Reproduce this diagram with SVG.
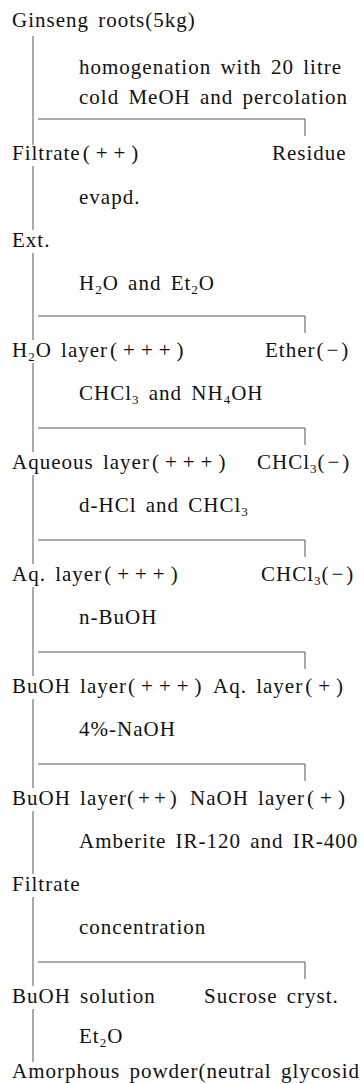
<svg xmlns="http://www.w3.org/2000/svg" width="364" height="1084" viewBox="0 0 364 1084">
<style>
  text { font-family: "Liberation Serif", "Times New Roman", serif; font-size: 21px; fill: #111; letter-spacing: 1px; word-spacing: 3px; }
  .sub { font-size: 13px; }
  .par { letter-spacing: 6px; }
  .par2 { letter-spacing: 4px; }
  .neg { letter-spacing: 3px; }
  .ln { stroke: #555; stroke-width: 1; fill: none; }
</style>
<rect width="364" height="1084" fill="#fff"/>

<!-- connectors: main trunk, branch bars and side ticks -->
<g id="connectors">
  <path class="ln" d="M33 36V145 M33 166V230 M33 253V340 M33 363V452 M33 475V564 M33 587V676 M33 699V788 M33 811V874 M33 897V986 M33 1009V1062"/>
  <path class="ln" d="M38 119H305V136 M38 316H305V333 M38 428H305V445 M38 540H305V557 M38 652H305V669 M38 764H305V781 M38 962H305V979"/>
</g>

<g id="n-ginseng"><text x="12" y="27">Ginseng roots(5kg)</text></g>
<g id="s-homogenation">
  <text x="79" y="74">homogenation with 20 litre</text>
  <text x="79" y="104">cold MeOH and percolation</text>
</g>
<g id="n-filtrate1"><text x="12" y="160">Filtrate<tspan class="par" dx="2">(++)</tspan></text></g>
<g id="n-residue"><text x="272" y="160">Residue</text></g>
<g id="s-evapd"><text x="79" y="204">evapd.</text></g>
<g id="n-ext"><text x="12" y="247">Ext.</text></g>
<g id="s-h2o-et2o"><text x="79" y="290">H<tspan class="sub" dy="4">2</tspan><tspan dy="-4">O and Et</tspan><tspan class="sub" dy="4">2</tspan><tspan dy="-4">O</tspan></text></g>
<g id="n-h2o-layer"><text x="12" y="357">H<tspan class="sub" dy="4">2</tspan><tspan dy="-4">O layer</tspan><tspan class="par" dx="2">(+++)</tspan></text></g>
<g id="n-ether"><text x="265" y="357">Ether<tspan class="neg" dx="1">(−)</tspan></text></g>
<g id="s-chcl3-nh4oh"><text x="79" y="400">CHCl<tspan class="sub" dy="4">3</tspan><tspan dy="-4"> and NH</tspan><tspan class="sub" dy="4">4</tspan><tspan dy="-4">OH</tspan></text></g>
<g id="n-aqueous"><text x="12" y="469">Aqueous layer<tspan class="par" dx="2">(+++)</tspan></text></g>
<g id="n-chcl3-a"><text x="257" y="469">CHCl<tspan class="sub" dy="4">3</tspan><tspan class="neg" dy="-4">(−)</tspan></text></g>
<g id="n-chcl3-b"><text x="261" y="581">CHCl<tspan class="sub" dy="4">3</tspan><tspan class="neg" dy="-4">(−)</tspan></text></g>
<g id="s-dhcl"><text x="79" y="512">d-HCl and CHCl<tspan class="sub" dy="4">3</tspan></text></g>
<g id="n-aq-layer"><text x="12" y="581">Aq. layer<tspan class="par" dx="2">(+++)</tspan></text></g>
<g id="s-nbuoh"><text x="79" y="624">n-BuOH</text></g>
<g id="n-buoh-layer-a"><text x="12" y="693">BuOH layer<tspan class="par" dx="1">(+++)</tspan></text></g>
<g id="n-aq-layer-b"><text x="213" y="693">Aq. layer<tspan class="par" dx="2">(+)</tspan></text></g>
<g id="s-naoh"><text x="79" y="736" letter-spacing="0">4%-NaOH</text></g>
<g id="n-buoh-layer-b"><text x="12" y="805">BuOH layer<tspan class="par2">(++)</tspan></text></g>
<g id="n-naoh-layer"><text x="190" y="805">NaOH layer<tspan class="par" dx="2">(+)</tspan></text></g>
<g id="s-amberite"><text x="79" y="848">Amberite IR-120 and IR-400</text></g>
<g id="n-filtrate2"><text x="12" y="891">Filtrate</text></g>
<g id="s-concentration"><text x="79" y="934">concentration</text></g>
<g id="n-buoh-solution"><text x="12" y="1003">BuOH solution</text></g>
<g id="n-sucrose"><text x="204" y="1003">Sucrose cryst.</text></g>
<g id="s-et2o"><text x="79" y="1043">Et<tspan class="sub" dy="4">2</tspan><tspan dy="-4">O</tspan></text></g>
<g id="n-amorphous"><text x="12" y="1078">Amorphous powder(neutral glycosid</text></g>
</svg>
